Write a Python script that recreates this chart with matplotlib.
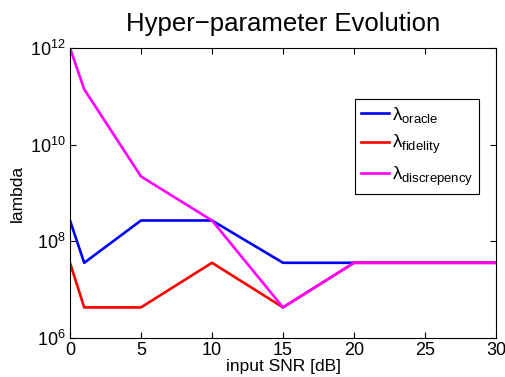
import numpy as np
import matplotlib
matplotlib.use('Agg')
import matplotlib.pyplot as plt

snr = [0, 1, 5, 10, 15, 20, 30]
lam_oracle = [2.7e8, 3.6e7, 2.7e8, 2.7e8, 3.6e7, 3.6e7, 3.6e7]
lam_fidelity = [3.6e7, 4.3e6, 4.3e6, 3.6e7, 4.3e6, 3.6e7, 3.6e7]
lam_discrepency = [1e12, 1.4e11, 2.2e9, 2.7e8, 4.3e6, 3.6e7, 3.6e7]

labels = [r'$\lambda_{\mathrm{oracle}}$', r'$\lambda_{\mathrm{fidelity}}$',
          r'$\lambda_{\mathrm{discrepency}}$']

plt.rcParams['font.family'] = ['Liberation Sans', 'DejaVu Sans']
plt.rcParams['mathtext.fontset'] = 'custom'
plt.rcParams['mathtext.rm'] = 'Liberation Sans'
plt.rcParams['mathtext.it'] = 'Liberation Sans'

fig = plt.figure(figsize=(5.05, 3.77), dpi=100)
ax = fig.add_axes([0.1386, 0.1034, 0.8436, 0.7693])

ax.semilogy(snr, lam_oracle, color='#0000ff', lw=1.9, label=labels[0])
ax.semilogy(snr, lam_fidelity, color='#ff0000', lw=1.9, label=labels[1])
ax.semilogy(snr, lam_discrepency, color='#ff00ff', lw=1.9, label=labels[2])

ax.set_xlim(0, 30)
ax.set_ylim(1e6, 1e12)
ax.set_xticks([0, 5, 10, 15, 20, 25, 30])
ax.set_yticks([1e6, 1e8, 1e10, 1e12])
ax.yaxis.set_minor_locator(matplotlib.ticker.NullLocator())
ax.tick_params(direction='in', top=True, right=True, labelsize=13, length=4, pad=3)

ax.set_title('Hyper\u2212parameter Evolution', fontsize=18.5, pad=12)
ax.set_xlabel('input SNR [dB]', fontsize=12.5, labelpad=0)
ax.set_ylabel('lambda', fontsize=12.5, labelpad=4)

leg = ax.legend(loc='upper right', bbox_to_anchor=(0.96, 0.824), borderaxespad=0,
                fontsize=13.5, fancybox=False, framealpha=1, edgecolor='black',
                handlelength=1.5, handletextpad=0.15, labelspacing=0.45, borderpad=0.3)
leg.get_frame().set_linewidth(0.8)

plt.savefig('out.png', dpi=100)
